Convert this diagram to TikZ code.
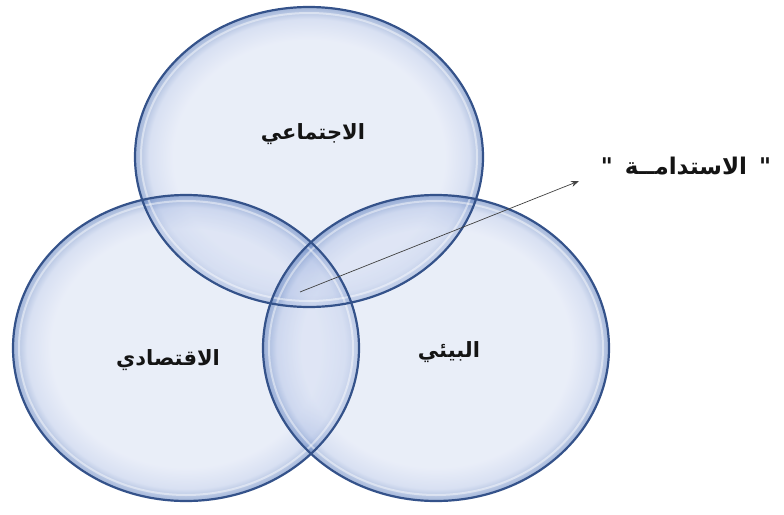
\documentclass[tikz,border=0pt]{standalone}
\usepackage{fontspec}
\newfontfamily\arabicfont[Script=Arabic]{DejaVu Sans}
\TeXXeTstate=1
\usetikzlibrary{arrows.meta}
\definecolor{bubin}{RGB}{212,221,242}
\definecolor{bubmid}{RGB}{178,194,230}
\definecolor{bubout}{RGB}{72,110,180}
\definecolor{rim}{RGB}{52,82,138}
\definecolor{inktext}{RGB}{20,20,20}
% the central 50bp square of a shading is stretched over the path, so the rim sits at 25bp
\pgfdeclareradialshading{bubble}{\pgfpoint{0bp}{0bp}}{%
  color(0bp)=(bubin); color(19.5bp)=(bubin); color(23bp)=(bubmid); color(25bp)=(bubout); color(50bp)=(bubout)}
\tikzset{
  bubblefill/.style={shading=bubble, opacity=0.5},
  bubblerim/.style={draw=rim, line width=2.2pt},
  bubbleshine/.style={draw=white, line width=2pt, opacity=0.45},
  arlabel/.style={font=\arabicfont\bfseries\fontsize{21}{24}\selectfont, text=inktext, inner sep=0pt},
  pointer/.style={draw=black!75, line width=0.7pt, -{Stealth[length=8pt,width=6pt]}}
}
\begin{document}
\begin{tikzpicture}[x=1pt,y=-1pt]
\useasboundingbox (0,0) rectangle (784,514);
% centres of the three circles
\coordinate (ctop) at (309,157);
\coordinate (cleft) at (186,348);
\coordinate (cright) at (436,348);
% translucent bodies
\shade[bubblefill] (ctop) ellipse [x radius=174, y radius=150];
\shade[bubblefill] (cleft) ellipse [x radius=173, y radius=153];
\shade[bubblefill] (cright) ellipse [x radius=173, y radius=153];
% inner highlight
\draw[bubbleshine] (ctop) ellipse [x radius=168, y radius=144];
\draw[bubbleshine] (cleft) ellipse [x radius=167, y radius=147];
\draw[bubbleshine] (cright) ellipse [x radius=167, y radius=147];
% outlines
\draw[bubblerim] (ctop) ellipse [x radius=174, y radius=150];
\draw[bubblerim] (cleft) ellipse [x radius=173, y radius=153];
\draw[bubblerim] (cright) ellipse [x radius=173, y radius=153];
% labels
\node[arlabel] (social) at (313,134) {\beginR الاجتماعي\endR};
\node[arlabel] (economic) at (168,360) {\beginR الاقتصادي\endR};
\node[arlabel] (environ) at (449,352) {\beginR البيئي\endR};
\node[arlabel, font=\arabicfont\bfseries\fontsize{23}{26}\selectfont] (sustain) at (686,166)
  {\beginR"\hspace{12pt}الاستدامــة\hspace{12pt}"\endR};
% pointer from the common area to the caption
\coordinate (core) at (300,292);
\coordinate (tip) at (579,181);
\draw[pointer] (core) -- (tip);
\end{tikzpicture}
\end{document}
